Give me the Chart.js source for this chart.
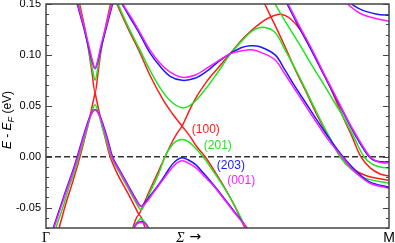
<!DOCTYPE html>
<html>
<head>
<meta charset="utf-8">
<script src="https://cdn.jsdelivr.net/npm/chart.js@4.4.1/dist/chart.umd.min.js"></script>
<style>
  html, body { margin: 0; padding: 0; background: #fff; }
  #wrap { width: 395px; height: 243px; }
</style>
</head>
<body>
<div id="wrap"><canvas id="bands"></canvas></div>
<script>
// bands along Γ -> M, k normalised 0..1, energies E - E_F in eV, pairs are [k, E]

// (100) - red, bands cross without gap
const red_valA = [[0.032,-0.0755],[0.038,-0.070],[0.058,-0.046],[0.079,-0.0235],[0.099,0.000],[0.117,0.0235],[0.131,0.044],[0.143,0.063]];
const red_valB = [[0.143,0.063],[0.155,0.044],[0.169,0.0235],[0.187,0.000],[0.210,-0.018],[0.239,-0.036],[0.271,-0.057]];
const red_valC = [[0.271,-0.057],[0.292,-0.041],[0.309,-0.028],[0.327,-0.015],[0.347,0.000],[0.367,0.014],[0.382,0.023],[0.397,0.030]];
const red_valD = [[0.397,0.030],[0.420,0.020],[0.437,0.011],[0.464,0.000],[0.493,-0.015],[0.522,-0.031],[0.551,-0.049],[0.580,-0.070],[0.589,-0.0755]];
const red_low = [[0.248,-0.0745],[0.271,-0.057],[0.294,-0.0745]];
const red_vee = [[0.093,0.156],[0.098,0.150],[0.114,0.125],[0.125,0.103],[0.134,0.083],[0.143,0.063],[0.152,0.083],[0.160,0.103],[0.172,0.125],[0.188,0.150],[0.192,0.156]];
const red_condA = [[0.201,0.157],[0.207,0.150],[0.239,0.126],[0.274,0.102],[0.303,0.080],[0.341,0.056],[0.367,0.043],[0.397,0.030]];
const red_condB = [[0.397,0.030],[0.434,0.056],[0.469,0.074],[0.501,0.087],[0.536,0.101],[0.580,0.118],[0.624,0.131],[0.653,0.137],[0.682,0.140],[0.711,0.136],[0.741,0.125],[0.770,0.108],[0.799,0.088],[0.834,0.064],[0.866,0.039],[0.892,0.020],[0.918,0.000],[0.945,-0.011],[0.974,-0.017],[1.000,-0.019]];
const red_condC = [[0.633,0.156],[0.638,0.150],[0.668,0.129],[0.697,0.108],[0.726,0.086],[0.758,0.064],[0.793,0.039],[0.828,0.018],[0.860,0.000],[0.895,-0.012],[0.936,-0.019],[1.000,-0.023]];

// (201) - green
const green_val = [[0.027,-0.0755],[0.029,-0.070],[0.050,-0.049],[0.068,-0.029],[0.083,-0.015],[0.096,0.000],[0.111,0.017],[0.122,0.030],[0.133,0.043],[0.143,0.051],[0.153,0.043],[0.163,0.030],[0.175,0.017],[0.190,0.000],[0.213,-0.015],[0.236,-0.029],[0.259,-0.043],[0.277,-0.052],[0.289,-0.046],[0.303,-0.035],[0.327,-0.018],[0.347,0.000],[0.364,0.010],[0.379,0.015],[0.397,0.017],[0.414,0.015],[0.431,0.010],[0.458,0.000],[0.481,-0.011],[0.507,-0.024],[0.542,-0.043],[0.583,-0.070],[0.592,-0.0755]];
const green_low = [[0.248,-0.0745],[0.254,-0.070],[0.265,-0.0645],[0.277,-0.061],[0.289,-0.0645],[0.300,-0.070],[0.306,-0.0745]];
const green_vee = [[0.090,0.156],[0.095,0.150],[0.111,0.127],[0.125,0.105],[0.136,0.085],[0.143,0.075],[0.150,0.085],[0.160,0.105],[0.175,0.127],[0.191,0.150],[0.195,0.156]];
const green_condA = [[0.204,0.157],[0.210,0.150],[0.242,0.126],[0.274,0.105],[0.303,0.085],[0.332,0.068],[0.362,0.055],[0.397,0.048],[0.426,0.052],[0.464,0.066],[0.501,0.083],[0.536,0.100],[0.580,0.117],[0.609,0.125],[0.638,0.127],[0.668,0.122],[0.697,0.105],[0.732,0.083],[0.764,0.061],[0.793,0.041],[0.825,0.020],[0.857,0.000],[0.892,-0.013],[0.930,-0.021],[1.000,-0.026]];
const green_condB = [[0.662,0.156],[0.668,0.150],[0.703,0.130],[0.738,0.111],[0.773,0.091],[0.808,0.072],[0.840,0.054],[0.872,0.036],[0.901,0.017],[0.927,0.000],[0.950,-0.007],[0.974,-0.010],[1.000,-0.011]];

// (203) - blue
const blue_val = [[0.015,-0.0755],[0.021,-0.070],[0.042,-0.049],[0.062,-0.029],[0.077,-0.015],[0.091,0.000],[0.106,0.017],[0.118,0.030],[0.130,0.041],[0.143,0.0465],[0.156,0.041],[0.168,0.030],[0.180,0.017],[0.194,0.000],[0.218,-0.015],[0.241,-0.029],[0.261,-0.041],[0.277,-0.0485],[0.291,-0.044],[0.302,-0.039],[0.327,-0.028],[0.347,-0.018],[0.367,-0.008],[0.382,-0.003],[0.397,-0.001],[0.414,-0.003],[0.437,-0.008],[0.464,-0.018],[0.487,-0.027],[0.513,-0.038],[0.545,-0.052],[0.586,-0.070],[0.598,-0.0755]];
const blue_low = [[0.250,-0.0745],[0.256,-0.070],[0.264,-0.066],[0.277,-0.0638],[0.290,-0.066],[0.298,-0.070],[0.304,-0.0745]];
const blue_vee = [[0.087,0.156],[0.091,0.150],[0.109,0.128],[0.123,0.109],[0.136,0.092],[0.143,0.0865],[0.150,0.092],[0.162,0.109],[0.177,0.128],[0.194,0.150],[0.199,0.156]];
const blue_condA = [[0.213,0.157],[0.222,0.150],[0.248,0.135],[0.274,0.120],[0.303,0.102],[0.332,0.089],[0.362,0.079],[0.397,0.075],[0.434,0.077],[0.469,0.084],[0.501,0.093],[0.536,0.101],[0.569,0.107],[0.595,0.109],[0.624,0.108],[0.668,0.100],[0.697,0.085],[0.726,0.069],[0.755,0.054],[0.790,0.036],[0.828,0.017],[0.866,0.000],[0.904,-0.014],[0.945,-0.025],[1.000,-0.030]];
const blue_condB = [[0.694,0.156],[0.703,0.150],[0.738,0.127],[0.773,0.105],[0.808,0.082],[0.843,0.059],[0.878,0.036],[0.907,0.018],[0.927,0.007],[0.942,0.000],[0.959,-0.004],[0.980,-0.005],[1.000,-0.005]];
const blue_top = [[0.886,0.156],[0.892,0.150],[0.910,0.146],[0.930,0.143],[0.965,0.140],[1.000,0.139]];

// (001) - magenta
const mag_val = [[0.017,-0.0755],[0.023,-0.070],[0.044,-0.049],[0.064,-0.029],[0.079,-0.015],[0.093,0.000],[0.108,0.017],[0.120,0.030],[0.131,0.041],[0.143,0.046],[0.155,0.041],[0.166,0.030],[0.178,0.017],[0.192,0.000],[0.216,-0.015],[0.239,-0.029],[0.259,-0.041],[0.277,-0.049],[0.292,-0.045],[0.303,-0.040],[0.327,-0.029],[0.347,-0.020],[0.367,-0.011],[0.382,-0.006],[0.397,-0.004],[0.414,-0.006],[0.437,-0.011],[0.464,-0.020],[0.487,-0.028],[0.513,-0.039],[0.545,-0.053],[0.586,-0.070],[0.598,-0.075]];
const mag_low = [[0.251,-0.0745],[0.257,-0.070],[0.265,-0.066],[0.277,-0.0645],[0.289,-0.066],[0.297,-0.070],[0.303,-0.0745]];
const mag_vee = [[0.089,0.156],[0.093,0.150],[0.111,0.128],[0.125,0.109],[0.137,0.092],[0.143,0.087],[0.149,0.092],[0.160,0.109],[0.175,0.128],[0.192,0.150],[0.197,0.156]];
const mag_condA = [[0.216,0.157],[0.224,0.150],[0.248,0.137],[0.274,0.122],[0.303,0.105],[0.332,0.092],[0.362,0.083],[0.397,0.078],[0.434,0.080],[0.469,0.087],[0.501,0.094],[0.536,0.101],[0.571,0.104],[0.601,0.105],[0.630,0.102],[0.668,0.095],[0.697,0.081],[0.726,0.066],[0.755,0.051],[0.784,0.036],[0.822,0.017],[0.863,0.000],[0.901,-0.015],[0.945,-0.026],[1.000,-0.031]];
const mag_condB = [[0.697,0.156],[0.706,0.150],[0.741,0.127],[0.776,0.105],[0.810,0.082],[0.845,0.059],[0.880,0.036],[0.910,0.018],[0.930,0.007],[0.945,0.000],[0.962,-0.004],[0.980,-0.006],[1.000,-0.006]];
const mag_top = [[0.872,0.156],[0.880,0.150],[0.901,0.144],[0.921,0.140],[0.959,0.136],[1.000,0.133]];

// axis ticks and labels
const eTicks = [-0.05, 0.00, 0.05, 0.10, 0.15];
const kTickPos = [0, 0.415, 1];
const kTickText = ['Γ', 'Σ →', 'M'];
const tags = ['(100)', '(201)', '(203)', '(001)'];
const tagPos = [[0.466, 0.0265], [0.501, 0.011], [0.539, -0.0088], [0.569, -0.0235]];

const RED = '#ff1a1a', GREEN = '#1ee61e', BLUE = '#1a1aff', MAG = '#ff1aff';
const tagColors = [RED, GREEN, BLUE, MAG];

function band(points, color) {
  return {
    data: points.map(([k, e]) => ({ x: k, y: e })),
    borderColor: color,
    borderWidth: 1.5,
    pointRadius: 0,
    showLine: true,
    tension: 0.35,
    fill: false
  };
}

// first dataset is drawn on top
const datasets = [
  ...[mag_val, mag_low, mag_vee, mag_condA, mag_condB, mag_top].map(b => band(b, MAG)),
  ...[blue_val, blue_low, blue_vee, blue_condA, blue_condB, blue_top].map(b => band(b, BLUE)),
  ...[green_val, green_low, green_vee, green_condA, green_condB].map(b => band(b, GREEN)),
  ...[red_valA, red_valB, red_valC, red_valD, red_low, red_vee, red_condA, red_condB, red_condC].map(b => band(b, RED))
];

const decor = {
  id: 'decor',
  beforeDatasetsDraw(chart) {
    const { ctx, chartArea: a, scales: { y } } = chart;
    const y0 = y.getPixelForValue(0);
    ctx.save();
    ctx.strokeStyle = '#333';
    ctx.lineWidth = 1.3;
    ctx.setLineDash([6, 3]);
    ctx.beginPath();
    ctx.moveTo(a.left, y0);
    ctx.lineTo(a.right, y0);
    ctx.stroke();
    ctx.restore();
  },
  afterDraw(chart) {
    const { ctx, chartArea: a, scales: { x, y } } = chart;
    ctx.save();

    // frame and inward ticks
    ctx.strokeStyle = '#444';
    ctx.lineWidth = 1.5;
    ctx.strokeRect(a.left, a.top, a.right - a.left, a.bottom - a.top);
    ctx.lineWidth = 1;
    for (let i = -7; i <= 15; i++) {
      const py = Math.round(y.getPixelForValue(i / 100)) + 0.5;
      const len = i % 5 === 0 ? 6 : 3;
      ctx.beginPath();
      ctx.moveTo(a.left, py); ctx.lineTo(a.left + len, py);
      ctx.moveTo(a.right, py); ctx.lineTo(a.right - len, py);
      ctx.stroke();
    }

    // k-path labels
    ctx.fillStyle = '#000';
    ctx.textAlign = 'center';
    ctx.textBaseline = 'alphabetic';
    kTickText.forEach((t, i) => {
      const px = x.getPixelForValue(kTickPos[i]);
      if (t === 'Γ') {
        ctx.font = '14px "Liberation Serif"';
        ctx.fillText(t, px, 242);
      } else if (t === 'M') {
        ctx.font = '14px "Liberation Sans"';
        ctx.fillText(t, px, 242);
      } else {
        const [sig, arrow] = t.split(' ');
        ctx.font = 'italic 14px "Liberation Serif"';
        ctx.fillText(sig, px - 8, 242);
        ctx.font = '14px "DejaVu Sans"';
        ctx.fillText(arrow, px + 7, 241);
      }
    });

    // y title: E - E_F (eV)
    ctx.translate(8, (a.top + a.bottom) / 2 + 4);
    ctx.rotate(-Math.PI / 2);
    ctx.textAlign = 'left';
    ctx.textBaseline = 'middle';
    const parts = [
      ['italic 12px "Liberation Sans"', 'E', 0],
      ['12px "Liberation Sans"', ' - ', 0],
      ['italic 12px "Liberation Sans"', 'E', 0],
      ['italic 9px "Liberation Sans"', 'F', 3],
      ['12px "Liberation Sans"', ' (eV)', 0]
    ];
    let w = 0;
    parts.forEach(([f, s]) => { ctx.font = f; w += ctx.measureText(s).width; });
    let cx = -w / 2;
    parts.forEach(([f, s, dy]) => {
      ctx.font = f;
      ctx.fillText(s, cx, dy);
      cx += ctx.measureText(s).width;
    });
    ctx.restore();

    // surface labels
    ctx.save();
    ctx.font = '12px "Liberation Sans"';
    ctx.textAlign = 'center';
    ctx.textBaseline = 'middle';
    tags.forEach((t, i) => {
      ctx.fillStyle = tagColors[i];
      ctx.fillText(t, x.getPixelForValue(tagPos[i][0]), y.getPixelForValue(tagPos[i][1]));
    });
    ctx.restore();
  }
};

new Chart(document.getElementById('bands'), {
  type: 'scatter',
  data: { datasets },
  options: {
    responsive: true,
    maintainAspectRatio: false,
    animation: false,
    layout: { padding: { top: 4, right: 6, left: 0, bottom: 0 } },
    plugins: { legend: { display: false }, tooltip: { enabled: false } },
    scales: {
      x: {
        type: 'linear', min: 0, max: 1,
        grid: { display: false, drawTicks: false },
        border: { display: false },
        ticks: { display: false },
        afterFit: s => { s.height = 15; s.paddingLeft = 0; s.paddingRight = 0; }
      },
      y: {
        type: 'linear', min: -0.07, max: 0.15,
        grid: { display: false, drawTicks: false },
        border: { display: false },
        afterBuildTicks: s => { s.ticks = eTicks.map(v => ({ value: v })); },
        ticks: {
          color: '#000',
          padding: 5,
          font: { family: '"Liberation Sans", Arial', size: 11 },
          callback: v => v.toFixed(2)
        },
        afterFit: s => { s.width = 46; s.paddingTop = 0; s.paddingBottom = 0; }
      }
    }
  },
  plugins: [decor]
});
</script>
</body>
</html>
